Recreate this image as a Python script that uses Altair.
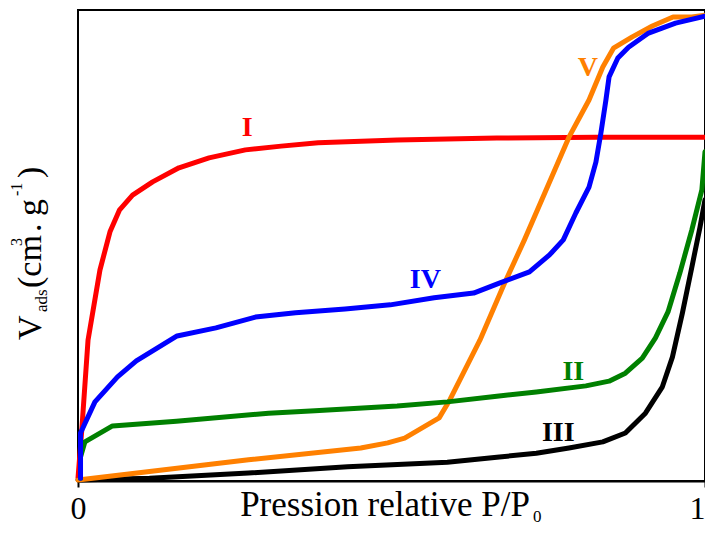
import altair as alt
import pandas as pd

# ---- data: relative pressure P/P0 (x) and normalised adsorbed volume (y) ----
I_x = [0.0, 0.006, 0.016, 0.035, 0.051, 0.066, 0.087, 0.119, 0.161, 0.209, 0.267, 0.324, 0.383, 0.509, 0.668, 0.826, 1.0]
I_y = [0.006, 0.108, 0.299, 0.448, 0.529, 0.575, 0.607, 0.635, 0.665, 0.686, 0.703, 0.711, 0.718, 0.724, 0.728, 0.730, 0.730]

II_x = [0.004, 0.004, 0.011, 0.055, 0.157, 0.304, 0.378, 0.509, 0.589, 0.668, 0.731, 0.810, 0.847, 0.873, 0.900, 0.921, 0.941, 0.960, 0.979, 0.995, 1.0]
II_y = [0.006, 0.051, 0.083, 0.117, 0.127, 0.144, 0.149, 0.159, 0.168, 0.180, 0.189, 0.202, 0.212, 0.229, 0.261, 0.304, 0.359, 0.442, 0.533, 0.618, 0.699]

III_x = [0.0, 0.114, 0.272, 0.430, 0.589, 0.672, 0.731, 0.783, 0.837, 0.873, 0.905, 0.932, 0.948, 0.964, 0.979, 0.992, 1.0]
III_y = [0.002, 0.006, 0.017, 0.030, 0.040, 0.051, 0.059, 0.070, 0.083, 0.102, 0.144, 0.200, 0.263, 0.357, 0.454, 0.539, 0.597]

IV_x = [0.004, 0.004, 0.027, 0.063, 0.093, 0.158, 0.220, 0.283, 0.347, 0.426, 0.498, 0.568, 0.631, 0.672, 0.720, 0.752, 0.774, 0.794, 0.815, 0.826, 0.834, 0.842, 0.847, 0.861, 0.878, 0.910, 0.953, 1.0]
IV_y = [0.006, 0.102, 0.168, 0.221, 0.255, 0.308, 0.325, 0.348, 0.357, 0.365, 0.374, 0.389, 0.399, 0.420, 0.444, 0.480, 0.512, 0.569, 0.624, 0.677, 0.739, 0.809, 0.858, 0.898, 0.921, 0.951, 0.972, 0.987]

V_x = [0.0, 0.272, 0.451, 0.494, 0.521, 0.576, 0.593, 0.641, 0.679, 0.712, 0.783, 0.815, 0.837, 0.854, 0.884, 0.916, 0.949, 0.979, 1.0]
V_y = [0.002, 0.045, 0.070, 0.081, 0.091, 0.134, 0.172, 0.299, 0.416, 0.512, 0.730, 0.809, 0.879, 0.919, 0.943, 0.966, 0.985, 0.985, 0.989]

# curve labels (data coordinates)
label_text = ["I", "II", "III", "IV", "V"]
label_x = [0.270, 0.790, 0.766, 0.554, 0.813]
label_y = [0.749, 0.231, 0.102, 0.427, 0.877]

# x tick values
x_ticks = [0, 1]

# ---- styles ----
colors = {"I": "#FF0000", "II": "#008000", "III": "#000000", "IV": "#0000FF", "V": "#FF8000"}
FONT = "Liberation Serif"

xscale = alt.Scale(domain=[0, 1], nice=False, zero=False)
yscale = alt.Scale(domain=[0, 1], nice=False, zero=False)
xaxis = alt.Axis(values=x_ticks, format="d", title=None, grid=False,
                 labelFont=FONT, labelFontSize=32, labelColor="black",
                 labelPadding=6, tickSize=6, tickWidth=2, tickColor="black",
                 domainColor="black", domainWidth=2, labelFlush=False,
                 labelAlign=alt.expr("datum.value == 1 ? 'right' : 'center'"))

series = [("I", I_x, I_y), ("III", III_x, III_y), ("V", V_x, V_y),
          ("II", II_x, II_y), ("IV", IV_x, IV_y)]

layers = []
for name, xs, ys in series:
    df = pd.DataFrame({"p": xs, "v": ys, "i": list(range(len(xs)))})
    layers.append(
        alt.Chart(df).mark_line(color=colors[name], strokeWidth=5,
                                strokeJoin="round", strokeCap="round")
        .encode(x=alt.X("p:Q", scale=xscale, axis=xaxis),
                y=alt.Y("v:Q", scale=yscale, axis=None),
                order="i:Q")
    )

lab_df = pd.DataFrame({"t": label_text, "p": label_x, "v": label_y})
labels = alt.Chart(lab_df).mark_text(font=FONT, fontSize=28, fontWeight="bold",
                                     align="center", baseline="middle").encode(
    x=alt.X("p:Q", scale=xscale, axis=xaxis),
    y=alt.Y("v:Q", scale=yscale, axis=None),
    text="t:N",
    color=alt.Color("t:N", scale=alt.Scale(domain=list(colors.keys()),
                                           range=list(colors.values())), legend=None),
)
layers.append(labels)


def txt(s, x, y, size, angle=0, align="left"):
    return alt.Chart(alt.Data(values=[{}])).mark_text(
        text=s, font=FONT, fontSize=size, angle=angle, align=align,
        baseline="alphabetic", color="black"
    ).encode(x=alt.value(x), y=alt.value(y))


# x title
layers.append(txt("Pression relative P/P", 307, 506, 35, align="center"))
layers.append(txt("0", 455, 512, 17))

# y title (rotated pieces)
layers.append(txt("V", -37, 330, 34, angle=270))
layers.append(txt("ads", -31, 302, 17, angle=270))
layers.append(txt("(cm", -37, 278, 34, angle=270))
layers.append(txt("3", -56, 236, 16, angle=270))
layers.append(txt(".", -37, 222, 34, angle=270))
layers.append(txt("g", -37, 206, 34, angle=270))
layers.append(txt("-1", -56, 186, 16, angle=270))
layers.append(txt(")", -37, 168, 34, angle=270))

chart = alt.layer(*layers).properties(
    width=627, height=471,
    autosize=alt.AutoSizeParams(type="none"),
    padding={"left": 70, "top": 2, "right": 0, "bottom": 44},
).configure_view(stroke="black", strokeWidth=2)

chart.save("out.html", embed_options={"renderer": "svg", "actions": False})
